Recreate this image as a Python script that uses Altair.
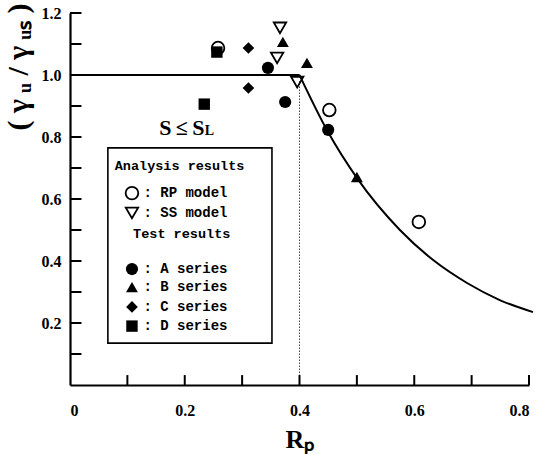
import altair as alt
import pandas as pd

# ---- measured / computed values ----
# Analysis results
rp_model_x = [0.258, 0.452, 0.608]
rp_model_y = [1.087, 0.887, 0.526]
ss_model_x = [0.366, 0.361, 0.396]
ss_model_y = [1.152, 1.055, 0.977]
# Test results
a_series_x = [0.345, 0.375, 0.450]
a_series_y = [1.023, 0.913, 0.823]
b_series_x = [0.371, 0.413, 0.500]
b_series_y = [1.107, 1.039, 0.671]
c_series_x = [0.311, 0.311]
c_series_y = [1.087, 0.958]
d_series_x = [0.256, 0.234]
d_series_y = [1.074, 0.906]

# Design curve: plateau up to Rp = 0.40, then decay
plateau_x = [0.0, 0.40]
plateau_y = [1.0, 1.0]
decay_x = [0.40, 0.45, 0.50, 0.575, 0.633, 0.692, 0.749, 0.807]
decay_y = [1.0, 0.815, 0.668, 0.50, 0.403, 0.329, 0.274, 0.235]
limit_rp = 0.40

# Axis ticks / labels
x_minor_ticks = [0.1, 0.2, 0.3, 0.4, 0.5, 0.6, 0.7, 0.8]
x_labels = [0.0, 0.2, 0.4, 0.6, 0.8]
y_minor_ticks = [0.1, 0.2, 0.3, 0.4, 0.5, 0.6, 0.7, 0.8, 0.9, 1.0, 1.1, 1.2]
y_labels = [0.2, 0.4, 0.6, 0.8, 1.0, 1.2]

series_names = ["RP model", "SS model", "A series", "B series", "C series", "D series"]
series_shapes = ["circle", "triangle-down", "circle", "triangle-up", "diamond", "square"]
series_sizes = [160, 130, 200, 140, 160, 75]

SERIF = "Liberation Serif"
MONO = "Liberation Mono"

# ---- tables ----
def pts(name, xs, ys):
    return [{"series": name, "rp": x, "ratio": y} for x, y in zip(xs, ys)]

open_df = pd.DataFrame(pts("RP model", rp_model_x, rp_model_y)
                       + pts("SS model", ss_model_x, ss_model_y))
filled_df = pd.DataFrame(pts("A series", a_series_x, a_series_y)
                         + pts("B series", b_series_x, b_series_y)
                         + pts("C series", c_series_x, c_series_y)
                         + pts("D series", d_series_x, d_series_y))

curve_df = pd.DataFrame(
    [{"seg": "plateau", "rp": x, "ratio": y} for x, y in zip(plateau_x, plateau_y)]
    + [{"seg": "decay", "rp": x, "ratio": y} for x, y in zip(decay_x, decay_y)]
)

xs = alt.Scale(domain=[0, 0.8], nice=False, zero=False)
ys = alt.Scale(domain=[0, 1.2], nice=False, zero=False)
shape_scale = alt.Scale(domain=series_names, range=series_shapes)
size_scale = alt.Scale(domain=series_names, range=series_sizes)

x_enc = alt.X("rp:Q", scale=xs, title="Rₚ",
              axis=alt.Axis(values=x_labels, ticks=False, grid=False,
                            labelExpr="datum.value == 0 ? '0' : format(datum.value, '.1f')",
                            labelFont=SERIF, labelFontWeight="bold", labelFontSize=16,
                            labelColor="black", labelPadding=17,
                            domainColor="black", domainWidth=2.2,
                            titleFont=SERIF, titleFontWeight="bold", titleFontSize=26,
                            titleColor="black", titlePadding=8))
y_enc = alt.Y("ratio:Q", scale=ys, title="( γ\u2009ᵤ / γ\u2009ᵤₛ )",
              axis=alt.Axis(values=y_labels, ticks=False, grid=False, format=".1f",
                            labelFont=SERIF, labelFontWeight="bold", labelFontSize=16,
                            labelColor="black", labelPadding=9,
                            domainColor="black", domainWidth=2.2,
                            titleFont=SERIF, titleFontWeight="bold", titleFontSize=30,
                            titleColor="black", titleAngle=270,
                            titleX=-52, titleY=-10, titleAlign="right",
                            titleBaseline="middle"))

base_curve = alt.Chart(curve_df).mark_line(color="black", strokeWidth=2,
                                           interpolate="monotone").encode(
    x=x_enc, y=y_enc, detail="seg:N")

# Vertical dotted guide at the limiting Rp
guide_df = pd.DataFrame({"rp": [limit_rp], "lo": [0.0], "hi": [0.98]})
guide = alt.Chart(guide_df).mark_rule(color="#444", strokeWidth=1,
                                      strokeDash=[1.5, 1.5]).encode(
    x="rp:Q", y="lo:Q", y2="hi:Q")

# Inward tick marks
xt_df = pd.DataFrame({"rp": x_minor_ticks, "lo": 0.0, "hi": 0.032})
yt_df = pd.DataFrame({"ratio": y_minor_ticks, "lo": 0.0, "hi": 0.02})
x_ticks = alt.Chart(xt_df).mark_rule(color="black", strokeWidth=2).encode(
    x="rp:Q", y="lo:Q", y2="hi:Q")
y_ticks = alt.Chart(yt_df).mark_rule(color="black", strokeWidth=2).encode(
    y="ratio:Q", x="lo:Q", x2="hi:Q")

open_pts = alt.Chart(open_df).mark_point(filled=False, color="black",
                                         strokeWidth=1.8, opacity=1).encode(
    x="rp:Q", y="ratio:Q",
    shape=alt.Shape("series:N", scale=shape_scale, legend=None),
    size=alt.Size("series:N", scale=size_scale, legend=None))
filled_pts = alt.Chart(filled_df).mark_point(filled=True, color="black",
                                             opacity=1).encode(
    x="rp:Q", y="ratio:Q",
    shape=alt.Shape("series:N", scale=shape_scale, legend=None),
    size=alt.Size("series:N", scale=size_scale, legend=None))

# Region label S <= S_L
label_df = pd.DataFrame({"rp": [0.195], "ratio": [0.83], "txt": ["S\u2009≤\u2009S"]})
label_sub_df = pd.DataFrame({"rp": [0.243], "ratio": [0.818], "txt": ["L"]})
region_label = alt.Chart(label_df).mark_text(font=SERIF, fontWeight="bold",
                                             fontSize=22, color="black").encode(
    x="rp:Q", y="ratio:Q", text="txt:N")
region_sub = alt.Chart(label_sub_df).mark_text(font=SERIF, fontWeight="bold",
                                               fontSize=14, color="black").encode(
    x="rp:Q", y="ratio:Q", text="txt:N")

# ---- custom key box ----
box_df = pd.DataFrame({"x0": [0.066], "x1": [0.352], "y0": [0.135], "y1": [0.765]})
key_box = alt.Chart(box_df).mark_rect(fill="white", stroke="black",
                                      strokeWidth=1.6).encode(
    x="x0:Q", x2="x1:Q", y="y0:Q", y2="y1:Q")

heads_df = pd.DataFrame({
    "rp": [0.078, 0.110],
    "ratio": [0.706, 0.487],
    "txt": ["Analysis results", "Test results"],
})
key_heads = alt.Chart(heads_df).mark_text(font=MONO, fontWeight="bold", fontSize=13.5,
                                          align="left", color="black").encode(
    x="rp:Q", y="ratio:Q", text="txt:N")

row_y = [0.619, 0.555, 0.374, 0.316, 0.252, 0.190]
row_txt = [": RP model", ": SS model", ": A  series", ": B  series",
           ": C  series", ": D  series"]
key_rows = pd.DataFrame({"series": series_names, "ratio": row_y, "txt": row_txt,
                         "sym_x": 0.108, "txt_x": 0.128})
key_open = alt.Chart(key_rows.iloc[:2]).mark_point(filled=False, color="black",
                                                   strokeWidth=1.8, opacity=1).encode(
    x="sym_x:Q", y="ratio:Q",
    shape=alt.Shape("series:N", scale=shape_scale, legend=None),
    size=alt.Size("series:N", scale=size_scale, legend=None))
key_filled = alt.Chart(key_rows.iloc[2:]).mark_point(filled=True, color="black",
                                                     opacity=1).encode(
    x="sym_x:Q", y="ratio:Q",
    shape=alt.Shape("series:N", scale=shape_scale, legend=None),
    size=alt.Size("series:N", scale=size_scale, legend=None))
key_text = alt.Chart(key_rows).mark_text(font=MONO, fontWeight="bold", fontSize=14,
                                         align="left", color="black").encode(
    x="txt_x:Q", y="ratio:Q", text="txt:N")

chart = alt.layer(
    base_curve, guide, x_ticks, y_ticks, key_box, key_heads, key_open, key_filled,
    key_text, region_label, region_sub, open_pts, filled_pts,
).properties(
    width=459, height=372,
    autosize=alt.AutoSizeParams(type="none"),
    padding={"left": 70, "top": 13, "right": 8, "bottom": 69},
    background="white",
).configure_view(stroke=None)

chart.save("out.html", embed_options={"renderer": "svg", "actions": False})
